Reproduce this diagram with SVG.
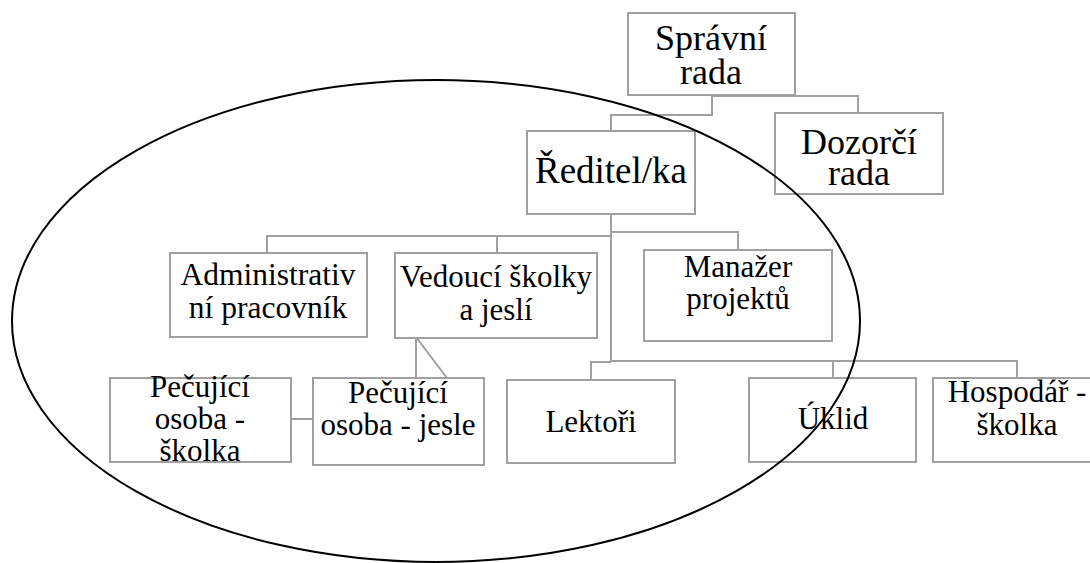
<svg xmlns="http://www.w3.org/2000/svg" width="1090" height="563" viewBox="0 0 1090 563">
<defs>
<style>
.box{fill:#fff;stroke:#a0a0a0;stroke-width:2}
.con{fill:none;stroke:#a0a0a0;stroke-width:2}
</style>
</defs>
<rect width="1090" height="563" fill="#fff"/>
<g id="connectors">
<polyline class="con" points="712,95 712,115 611,115 611,131"/>
<polyline class="con" points="712,96 858,96 858,113"/>
<polyline class="con" points="611,213 611,362"/>
<polyline class="con" points="611,236 267,236 267,253"/>
<polyline class="con" points="497,236 497,253"/>
<polyline class="con" points="611,232 738,232 738,250"/>
<polyline class="con" points="611,361 1017,361 1017,378"/>
<polyline class="con" points="833,361 833,378"/>
<polyline class="con" points="611,362 591,362 591,380"/>
<polyline class="con" points="416,337 416,378"/>
<polyline class="con" points="416,337 447,378"/>
<polyline class="con" points="291,419 313,419"/>
</g>
<g font-family="'Liberation Serif', 'Times New Roman', serif" text-anchor="middle" fill="#000">
<g id="spravni-rada" font-size="36">
<rect class="box" x="628" y="13" width="167" height="82"/>
<text x="711" y="50">Správní</text>
<text x="711" y="84">rada</text>
</g>
<g id="reditel" font-size="37">
<rect class="box" x="527" y="131" width="168" height="83"/>
<text x="611" y="183">Ředitel/ka</text>
</g>
<g id="dozorci-rada" font-size="36">
<rect class="box" x="775" y="113" width="168" height="81"/>
<text x="859" y="154">Dozorčí</text>
<text x="859" y="185">rada</text>
</g>
<g id="administrativni" font-size="31.5">
<rect class="box" x="170" y="253" width="197" height="84"/>
<text x="268" y="285">Administrativ</text>
<text x="268" y="318">ní pracovník</text>
</g>
<g id="vedouci" font-size="31">
<rect class="box" x="395" y="253" width="202" height="85"/>
<text x="496" y="287">Vedoucí školky</text>
<text x="496" y="320">a jeslí</text>
</g>
<g id="manazer" font-size="31">
<rect class="box" x="644" y="250" width="188" height="91"/>
<text x="738" y="277">Manažer</text>
<text x="738" y="309">projektů</text>
</g>
<g id="pecujici-skolka" font-size="31">
<rect class="box" x="110" y="378" width="181" height="84"/>
<text x="200" y="397">Pečující</text>
<text x="200" y="429">osoba -</text>
<text x="200" y="461">školka</text>
</g>
<g id="pecujici-jesle" font-size="31">
<rect class="box" x="313" y="378" width="171" height="87"/>
<text x="398" y="403">Pečující</text>
<text x="398" y="435">osoba - jesle</text>
</g>
<g id="lektori" font-size="31">
<rect class="box" x="507" y="380" width="168" height="83"/>
<text x="591" y="432">Lektoři</text>
</g>
<g id="uklid" font-size="31">
<rect class="box" x="749" y="378" width="167" height="84"/>
<text x="833" y="429">Úklid</text>
</g>
<g id="hospodar" font-size="31">
<rect class="box" x="933" y="378" width="167" height="84"/>
<text x="1017" y="402">Hospodář -</text>
<text x="1017" y="435">školka</text>
</g>
</g>
<ellipse cx="436" cy="321" rx="424" ry="241" fill="none" stroke="#000" stroke-width="2"/>
</svg>
